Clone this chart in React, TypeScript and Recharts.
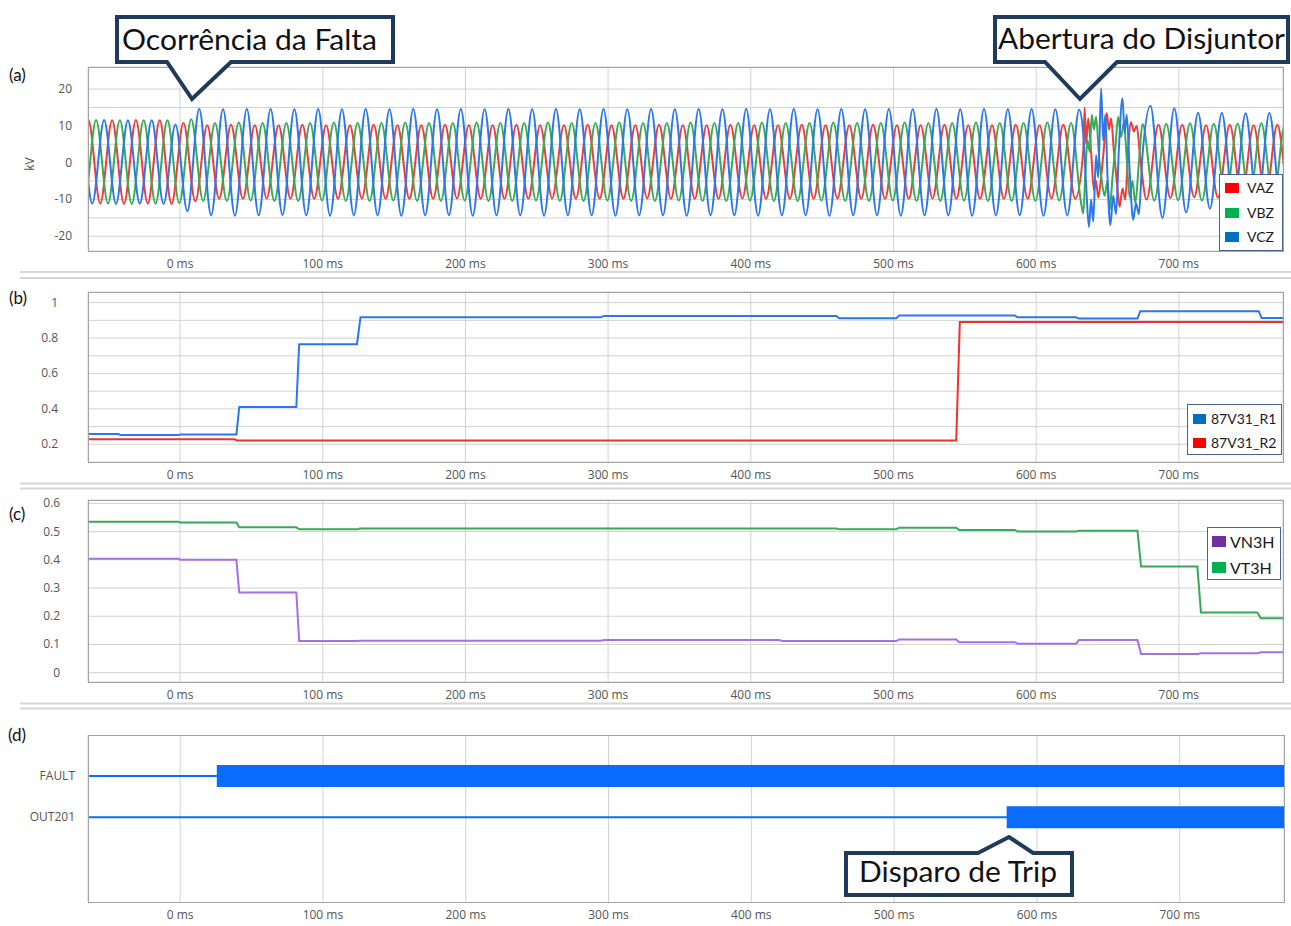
import React from 'react';
import { LineChart, Line, XAxis, YAxis, CartesianGrid, Legend } from 'recharts';

const TICK_FONT = '"Open Sans", "Noto Sans", "DejaVu Sans", sans-serif';
const TITLE_FONT = 'Lato, "Noto Sans", sans-serif';

// ---------------- time axis ----------------
const X_DOMAIN: [number, number] = [-64.5, 773];
const TIME_TICKS = [0, 100, 200, 300, 400, 500, 600, 700];

// ---------------- (a) voltages, one extremum per half cycle (60 Hz), kV ----------------
const HALF_CYCLE_MS = 1000 / 120;

const VAZ_T0 = -72.6;
const VAZ_EXTREMA: (number | null)[] = [
  -11.2, 11.6, -11.1, 11.5, -11.2, 11.6, -11.1, 11.5, -11.2, 10.8,
  -10.5, 10.2, -9.8, 10.3, -9.8, 10.2, -9.7, 10.2, -9.8, 10.3,
  -9.8, 10.2, -9.8, 10.2, -9.7, 10.3, -9.8, 10.2, -9.8, 10.2,
  -9.8, 10.3, -9.7, 10.2, -9.8, 10.2, -9.8, 10.3, -9.8, 10.2,
  -9.7, 10.2, -9.8, 10.3, -9.8, 10.2, -9.8, 10.2, -9.7, 10.3,
  -9.8, 10.2, -9.8, 10.2, -9.8, 10.3, -9.7, 10.2, -9.8, 10.2,
  -9.8, 10.3, -9.8, 10.2, -9.7, 10.2, -9.8, 10.3, -9.8, 10.2,
  -9.8, 10.2, -9.7, 10.3, -9.8, 10.2, -9.8, 10.2, -9.8, 10.3,
  -9.8, 10.2, -9.7, 10.3, -9.8, null, null, null, null, null,
  -10.0, 10.3, -9.6, 10.3, -9.4, 10.2, -9.5, 10.3, -9.3, 10.2,
  -9.5, 10.3, -9.4, 10.2,
];
const VAZ_DISTURBANCE: [number, number][] = [
  [633, 3], [634, 15], [635, 5], [636.5, 12], [638.5, 3], [640.5, -7.5], [642, -5],
  [643.5, -9.5], [645.5, -4], [647.5, 4], [649.5, 13.5], [651, 9], [652.5, 12],
  [654.5, 3], [656.5, -5], [658.5, -12], [660.5, -7], [662.5, -10], [664.5, 4],
  [666.5, 11], [668.5, 8.5], [670.5, 10], [673, 1],
];

const VBZ_T0 = -75.5;
const VBZ_EXTREMA: (number | null)[] = [
  11.5, -11.2, 11.6, -11.1, 11.5, -11.2, 11.5, -11.1, 11.5, -11.0,
  11.8, -10.4, 10.8, -10.4, 10.9, -10.3, 10.8, -10.4, 10.8, -10.4,
  10.8, -10.3, 10.9, -10.4, 10.8, -10.4, 10.8, -10.3, 10.9, -10.4,
  10.8, -10.4, 10.8, -10.3, 10.9, -10.4, 10.8, -10.4, 10.8, -10.3,
  10.9, -10.4, 10.8, -10.4, 10.8, -10.3, 10.9, -10.4, 10.8, -10.4,
  10.8, -10.3, 10.9, -10.4, 10.8, -10.4, 10.8, -10.3, 10.9, -10.4,
  10.8, -10.4, 10.8, -10.3, 10.9, -10.4, 10.8, -10.4, 10.8, -10.3,
  10.9, -10.4, 10.8, -10.4, 10.8, -10.3, 10.9, -10.4, 10.8, -10.4,
  10.8, -10.4, 10.9, -10.3, 10.8, null, null, null, null, null,
  null, -10.3, 10.6, -10.2, 10.7, -10.3, 10.6, -10.2, 10.6, -10.3,
  10.7, -10.2, 10.6, -10.3,
];
const VBZ_DISTURBANCE: [number, number][] = [
  [631.5, -11], [633, -13.8], [634.5, -3], [636, 6], [637.5, 3], [639, 13], [640.5, 9],
  [642, 12.5], [644, 2], [646, -5], [648, -9], [650, -5], [651.5, -13], [653.5, -4],
  [655.5, 4], [657.5, 12.5], [659.5, 7], [661.5, 11], [663.5, 1], [665.5, -9.5],
  [667.5, -5], [669.5, -11], [672, 0], [674.5, 10.5],
];

const VCZ_T0 = -78.2;
const VCZ_EXTREMA: (number | null)[] = [
  -11.2, 11.5, -11.1, 11.6, -11.2, 11.5, -11.1, 11.5, -11.2, 10.4,
  -13.2, 14.6, -14.3, 14.5, -14.4, 14.6, -14.3, 14.6, -14.2, 14.5,
  -14.3, 14.6, -14.4, 14.5, -14.3, 14.6, -14.3, 14.5, -14.4, 14.6,
  -14.3, 14.5, -14.3, 14.6, -14.4, 14.5, -14.3, 14.6, -14.3, 14.5,
  -14.4, 14.6, -14.3, 14.5, -14.3, 14.6, -14.4, 14.5, -14.3, 14.6,
  -14.3, 14.5, -14.4, 14.6, -14.3, 14.5, -14.3, 14.6, -14.4, 14.5,
  -14.3, 14.6, -14.3, 14.5, -14.4, 14.6, -14.3, 14.5, -14.3, 14.6,
  -14.4, 14.5, -14.3, 14.6, -14.3, 14.5, -14.4, 14.6, -14.3, 14.5,
  -14.3, 14.6, -14.4, 14.5, -14.3, 14.4, null, null, null, null,
  null, 15.5, -15.0, 14.8, -13.5, 13.6, -12.5, 13.5, -12.3, 13.4,
  -12.5, 13.5, -12.4, 13.5,
];
const VCZ_DISTURBANCE: [number, number][] = [
  [633, 8], [635, -6], [637, -17.5], [638.5, -10], [640, -16], [642, 2], [643.5, -4],
  [645.5, 20.2], [647, 6], [648.5, 13], [650, -4], [652, -17], [654, -9], [656, -14],
  [658, 4], [660.5, 17.5], [662, 8], [663.5, 13], [665.5, -2], [668, -15.5], [670, -11],
  [672, -14], [674.5, 2],
];

const KV_TICKS = [-20, -15, -10, -5, 0, 5, 10, 15, 20];
const KV_LABELS = [-20, -10, 0, 10, 20];

// ---------------- (b) 87V31 ratios ----------------
const R1_STEPS: [number, number][] = [
  [-64.5, 0.258], [-43, 0.258], [-42, 0.252], [-1, 0.252], [0, 0.255], [39.5, 0.255],
  [41.5, 0.41], [81.5, 0.41], [83.5, 0.765], [124, 0.765], [126.5, 0.918], [295, 0.918],
  [297, 0.925], [460, 0.925], [462, 0.912], [502, 0.912], [504, 0.928], [585, 0.928],
  [587, 0.917], [628, 0.917], [630, 0.91], [671, 0.91], [673, 0.952], [756, 0.952],
  [758, 0.913], [773, 0.913],
];
const R2_STEPS: [number, number][] = [
  [-64.5, 0.228], [38, 0.228], [40, 0.222], [544, 0.222], [546.5, 0.89], [773, 0.89],
];
const R_TICKS = [0.2, 0.3, 0.4, 0.5, 0.6, 0.7, 0.8, 0.9, 1];
const R_LABELS = [0.2, 0.4, 0.6, 0.8, 1];

// ---------------- (c) third harmonic ----------------
const VN3H_STEPS: [number, number][] = [
  [-64.5, 0.404], [-1, 0.404], [0, 0.4], [39.5, 0.4], [41.5, 0.284], [81.5, 0.284],
  [83.5, 0.112], [124, 0.112], [126, 0.113], [295, 0.113], [297, 0.116], [420, 0.116],
  [422, 0.112], [502, 0.112], [504, 0.118], [544, 0.118], [546, 0.108], [585, 0.108],
  [587, 0.103], [628, 0.103], [630, 0.116], [671, 0.116], [673.5, 0.066], [713, 0.066],
  [715.5, 0.069], [755, 0.069], [757.5, 0.072], [773, 0.072],
];
const VT3H_STEPS: [number, number][] = [
  [-64.5, 0.535], [-1, 0.535], [0, 0.532], [39.5, 0.532], [41.5, 0.515], [81.5, 0.515],
  [83.5, 0.508], [124, 0.508], [126, 0.511], [460, 0.511], [462, 0.508], [502, 0.508],
  [504, 0.514], [544, 0.514], [546, 0.506], [585, 0.506], [587, 0.5], [628, 0.5],
  [630, 0.503], [671, 0.503], [673.5, 0.376], [713, 0.376], [715.5, 0.213], [755, 0.213],
  [757.5, 0.193], [773, 0.193],
];
const H3_TICKS = [0, 0.1, 0.2, 0.3, 0.4, 0.5, 0.6];

// ---------------- (d) digital channels ----------------
const DIGITAL_CHANNELS = ['FAULT', 'OUT201'];
const DIGITAL_ROWS = [2, 1];
const DIGITAL_ON_MS = [25.7, 578.8];
const RECORD_START_MS = -64.5;
const RECORD_END_MS = 773;

// ---------------- colours ----------------
const LINE_COLORS: Record<string, string> = {
  VAZ: '#ee3b3b', VBZ: '#3aab55', VCZ: '#2a78ec',
  '87V31_R1': '#2a78ec', '87V31_R2': '#f23030',
  VN3H: '#a56fe6', VT3H: '#34aa56',
};
const LEGEND_SWATCH: Record<string, string> = {
  VAZ: '#ff0000', VBZ: '#00b050', VCZ: '#0070c0',
  '87V31_R1': '#0070c0', '87V31_R2': '#ff0000',
  VN3H: '#7030a0', VT3H: '#00b050',
};
const DIGITAL_COLOR = '#0a6cff';
const GRID_COLOR = '#d2d2d2';
const CALLOUT_STROKE = '#1f3b5b';

// ---------------- helpers ----------------
type Pt = { t: number; v: number };
function buildWave(t0: number, extrema: (number | null)[], disturbance: [number, number][]): Pt[] {
  const pts: Pt[] = [];
  extrema.forEach((v, i) => {
    if (v !== null) pts.push({ t: Math.round((t0 + i * HALF_CYCLE_MS) * 100) / 100, v });
  });
  disturbance.forEach(([t, v]) => pts.push({ t, v }));
  pts.sort((a, b) => a.t - b.t);
  return pts;
}
const toPts = (arr: [number, number][]): Pt[] => arr.map(([t, v]) => ({ t, v }));

const VAZ = buildWave(VAZ_T0, VAZ_EXTREMA, VAZ_DISTURBANCE);
const VBZ = buildWave(VBZ_T0, VBZ_EXTREMA, VBZ_DISTURBANCE);
const VCZ = buildWave(VCZ_T0, VCZ_EXTREMA, VCZ_DISTURBANCE);

const makeYTick = (labels: number[] | null, dx: number, fmt?: (v: number) => string) => (props: any) => {
  const { x, y, payload } = props;
  const v = payload.value;
  if (labels && !labels.includes(v)) return <g />;
  return (
    <text x={x - dx} y={y} dy={4} textAnchor="end" fontSize={12} fill="#555" fontFamily={TICK_FONT}>
      {fmt ? fmt(v) : String(v)}
    </text>
  );
};

const timeAxis = (height: number) => (
  <XAxis
    type="number"
    dataKey="t"
    domain={X_DOMAIN}
    ticks={TIME_TICKS}
    interval={0}
    allowDataOverflow
    tickFormatter={(v: number) => `${v} ms`}
    tickLine={false}
    axisLine={false}
    height={height}
    tick={{ fontSize: 12, fill: '#555', fontFamily: TICK_FONT }}
  />
);

type BoxCfg = { w: number; h: number; rows: number[]; swX: number; swW: number; swH: number; txX: number; fs: number };
const legendContent = (cfg: BoxCfg) => (props: any) => {
  const payload = (props.payload || []).filter((p: any) => p.type !== 'none');
  return (
    <div
      style={{
        width: cfg.w, height: cfg.h, boxSizing: 'border-box', border: '1px solid #4a6490',
        background: '#fff', position: 'relative',
      }}
    >
      {payload.map((p: any, i: number) => (
        <React.Fragment key={p.value}>
          <div
            style={{
              position: 'absolute', left: cfg.swX, top: cfg.rows[i] - cfg.swH / 2,
              width: cfg.swW, height: cfg.swH, background: LEGEND_SWATCH[p.value] || p.color,
            }}
          />
          <div
            style={{
              position: 'absolute', left: cfg.txX, top: cfg.rows[i] - 10, height: 20, lineHeight: '20px',
              fontSize: cfg.fs, fontFamily: TITLE_FONT, color: '#1a1a1a', whiteSpace: 'nowrap',
            }}
          >
            {p.value}
          </div>
        </React.Fragment>
      ))}
    </div>
  );
};

const series = (name: string, data: Pt[], type: 'monotone' | 'linear', width = 2) => (
  <Line
    key={name}
    name={name}
    data={data}
    dataKey="v"
    type={type}
    stroke={LINE_COLORS[name]}
    strokeWidth={width}
    dot={false}
    activeDot={false}
    isAnimationActive={false}
  />
);

const Abs: React.FC<{ left: number; top: number; children: React.ReactNode }> = ({ left, top, children }) => (
  <div style={{ position: 'absolute', left, top }}>{children}</div>
);

const PLOTS = [
  { l: 88, t: 67, w: 1195, h: 184 },
  { l: 88, t: 292, w: 1195, h: 170 },
  { l: 88, t: 500, w: 1195, h: 182 },
  { l: 88, t: 735, w: 1196, h: 167 },
];

const Callout: React.FC<{ d: string; x: number; y: number; text: string; len: number }> = ({ d, x, y, text, len }) => (
  <g>
    <path d={d} fill="#fff" stroke={CALLOUT_STROKE} strokeWidth={4} strokeLinejoin="miter" />
    <text x={x} y={y} fontSize={29} fontFamily={TITLE_FONT} fill="#111" textLength={len} lengthAdjust="spacingAndGlyphs">
      {text}
    </text>
  </g>
);

export default function App() {
  const digitalThin = DIGITAL_CHANNELS.map((c, i) => [
    { t: RECORD_START_MS, v: DIGITAL_ROWS[i] },
    { t: RECORD_END_MS, v: DIGITAL_ROWS[i] },
  ]);
  const digitalOn = DIGITAL_CHANNELS.map((c, i) => [
    { t: DIGITAL_ON_MS[i], v: DIGITAL_ROWS[i] },
    { t: RECORD_END_MS, v: DIGITAL_ROWS[i] },
  ]);
  const rowName = (v: number) => DIGITAL_CHANNELS[DIGITAL_ROWS.indexOf(v)] || '';

  return (
    <div style={{ position: 'absolute', left: 0, top: 0, width: 1291, height: 926, background: '#fff', overflow: 'hidden' }}>
      {/* (a) */}
      <Abs left={0} top={0}>
        <LineChart width={1291} height={280} margin={{ top: 67, right: 8, bottom: 4, left: 28 }}>
          <CartesianGrid stroke={GRID_COLOR} />
          {timeAxis(25)}
          <YAxis
            type="number" domain={[-24, 26]} ticks={KV_TICKS} interval={0} allowDataOverflow width={60}
            tickLine={false} axisLine={false} tick={makeYTick(KV_LABELS, 8)}
          />
          {series('VAZ', VAZ, 'monotone')}
          {series('VBZ', VBZ, 'monotone')}
          {series('VCZ', VCZ, 'monotone')}
          <Legend
            layout="horizontal" verticalAlign="middle" align="center"
            wrapperStyle={{ left: 1219, top: 174, width: 64, height: 77 }}
            content={legendContent({ w: 64, h: 77, rows: [13, 37.5, 61.5], swX: 5, swW: 14, swH: 10, txX: 27, fs: 14 })}
          />
        </LineChart>
      </Abs>

      {/* (b) */}
      <Abs left={0} top={280}>
        <LineChart width={1291} height={210} margin={{ top: 12, right: 8, bottom: 3, left: 28 }}>
          <CartesianGrid stroke={GRID_COLOR} />
          {timeAxis(25)}
          <YAxis
            type="number" domain={[0.1, 1.06]} ticks={R_TICKS} interval={0} allowDataOverflow width={60}
            tickLine={false} axisLine={false} tick={makeYTick(R_LABELS, 22)}
          />
          {series('87V31_R1', toPts(R1_STEPS), 'linear')}
          {series('87V31_R2', toPts(R2_STEPS), 'linear')}
          <Legend
            layout="horizontal" verticalAlign="middle" align="center"
            wrapperStyle={{ left: 1187, top: 124, width: 95, height: 51 }}
            content={legendContent({ w: 95, h: 51, rows: [13.5, 38], swX: 5, swW: 13, swH: 10, txX: 23, fs: 14 })}
          />
        </LineChart>
      </Abs>

      {/* (c) */}
      <Abs left={0} top={490}>
        <LineChart width={1291} height={220} margin={{ top: 10, right: 8, bottom: 3, left: 28 }}>
          <CartesianGrid stroke={GRID_COLOR} />
          {timeAxis(25)}
          <YAxis
            type="number" domain={[-0.033, 0.612]} ticks={H3_TICKS} interval={0} allowDataOverflow width={60}
            tickLine={false} axisLine={false} tick={makeYTick(null, 20)}
          />
          {series('VN3H', toPts(VN3H_STEPS), 'linear')}
          {series('VT3H', toPts(VT3H_STEPS), 'linear')}
          <Legend
            layout="horizontal" verticalAlign="middle" align="center"
            wrapperStyle={{ left: 1207, top: 37, width: 74, height: 53 }}
            content={legendContent({ w: 74, h: 53, rows: [13.5, 39.5], swX: 4, swW: 14, swH: 11, txX: 22, fs: 16 })}
          />
        </LineChart>
      </Abs>

      {/* (d) */}
      <Abs left={0} top={710}>
        <LineChart width={1291} height={216} margin={{ top: 25, right: 7, bottom: 0, left: 28 }}>
          <CartesianGrid stroke={GRID_COLOR} horizontal={false} />
          {timeAxis(24)}
          <YAxis
            type="number" domain={[-1.05, 2.99]} ticks={[...DIGITAL_ROWS].reverse()} interval={0} allowDataOverflow width={60}
            tickLine={false} axisLine={false} tick={makeYTick(null, 5, rowName)}
          />
          {DIGITAL_CHANNELS.map((c, i) => (
            <Line
              key={c + '-base'} name={c} data={digitalThin[i]} dataKey="v" type="linear"
              stroke={DIGITAL_COLOR} strokeWidth={2} dot={false} activeDot={false} isAnimationActive={false} legendType="none"
            />
          ))}
          {DIGITAL_CHANNELS.map((c, i) => (
            <Line
              key={c + '-on'} name={c + ' on'} data={digitalOn[i]} dataKey="v" type="linear"
              stroke={DIGITAL_COLOR} strokeWidth={22} strokeLinecap="butt" dot={false} activeDot={false}
              isAnimationActive={false} legendType="none"
            />
          ))}
        </LineChart>
      </Abs>

      {/* plot borders */}
      {PLOTS.map((p, i) => (
        <div
          key={i}
          style={{
            position: 'absolute', left: p.l, top: p.t, width: p.w + 1, height: p.h + 1,
            boxSizing: 'border-box', border: '1px solid #a3a3a3', pointerEvents: 'none',
          }}
        />
      ))}

      {/* overlay: separators, panel letters, axis title, callouts */}
      <svg width={1291} height={926} style={{ position: 'absolute', left: 0, top: 0, pointerEvents: 'none' }}>
        {[272, 278, 483.5, 488.5, 703.5, 708.5].map((y) => (
          <line key={y} x1={20} x2={1291} y1={y} y2={y} stroke="#d6d6d6" strokeWidth={2} />
        ))}
        <text x={9} y={81} fontSize={17} fontFamily={TITLE_FONT} fill="#111">(a)</text>
        <text x={9} y={304} fontSize={17} fontFamily={TITLE_FONT} fill="#111">(b)</text>
        <text x={9} y={520} fontSize={17} fontFamily={TITLE_FONT} fill="#111">(c)</text>
        <text x={8} y={741} fontSize={17} fontFamily={TITLE_FONT} fill="#111">(d)</text>
        <text
          x={34} y={164} fontSize={12} fontFamily={TICK_FONT} fill="#555" textAnchor="middle"
          transform="rotate(-90 34 164)"
        >
          kV
        </text>

        <Callout
          d="M117,17 H393 V62 H231 L192,99 L167,62 H117 Z"
          x={122} y={50} text="Ocorrência da Falta" len={255}
        />
        <Callout
          d="M995,17 H1288 V62 H1117 L1080,99 L1045,62 H995 Z"
          x={998} y={49} text="Abertura do Disjuntor" len={287}
        />
        <Callout
          d="M846,853 H978 L1009,837 L1033,853 H1072 V895 H846 Z"
          x={859} y={882} text="Disparo de Trip" len={198}
        />
      </svg>
    </div>
  );
}
